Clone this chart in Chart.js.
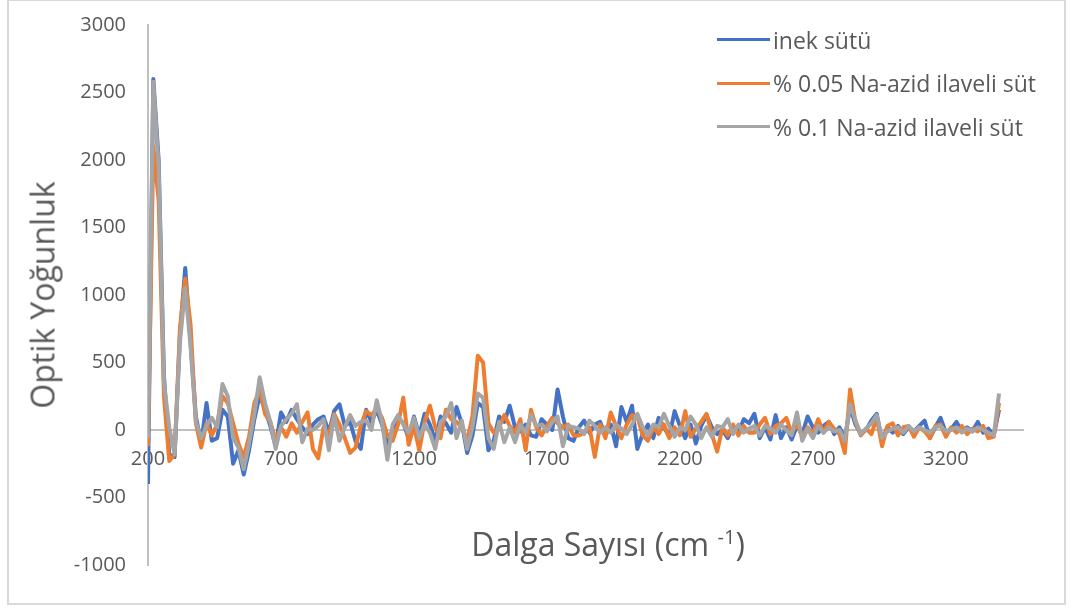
<!DOCTYPE html>
<html lang="tr">
<head>
<meta charset="utf-8">
<title>Optik Yoğunluk</title>
<script src="https://cdn.jsdelivr.net/npm/chart.js@4.4.1/dist/chart.umd.min.js"></script>
<style>
    body { margin: 0; background: #fff; font-family: 'Open Sans', sans-serif; color: #595959; }
    #wrap { position: relative; width: 1072px; height: 612px; background: #fff; }
    #frame { position: absolute; left: 7px; top: -1px; width: 1059px; height: 606px; border: 2px solid #d9d9d9; box-sizing: border-box; }
    #chart { position: absolute; left: 0; top: 0; }
    #ytitle { position: absolute; left: 42px; top: 295px; transform: translate(-50%, -50%) rotate(-90deg); font-size: 32px; white-space: nowrap; }
    #xtitle { position: absolute; left: 608px; top: 543px; transform: translate(-50%, -50%); font-size: 32px; white-space: nowrap; }
    #xtitle sup { font-size: 20px; }
    #legend { position: absolute; left: 717px; top: 18px; font-size: 23px; }
    .legend-item { display: flex; align-items: center; height: 43.5px; }
    .legend-line { width: 53px; height: 3px; margin-right: 3px; }
</style>
</head>
<body>
<div id="wrap">
    <div id="frame"></div>
    <canvas id="chart" width="1072" height="612"></canvas>
    <div id="ytitle">Optik Yoğunluk</div>
    <div id="xtitle">Dalga Sayısı (cm <sup>-1</sup>)</div>
    <div id="legend"></div>
</div>
<script>
// ============================================
// DATA
// ============================================

// wavenumbers (cm-1), one row = 200 cm-1
const dalgaSayisi = [
    200, 220, 240, 260, 280, 300, 320, 340, 360, 380,
    400, 420, 440, 460, 480, 500, 520, 540, 560, 580,
    600, 620, 640, 660, 680, 700, 720, 740, 760, 780,
    800, 820, 840, 860, 880, 900, 920, 940, 960, 980,
    1000, 1020, 1040, 1060, 1080, 1100, 1120, 1140, 1160, 1180,
    1200, 1220, 1240, 1260, 1280, 1300, 1320, 1340, 1360, 1380,
    1400, 1420, 1440, 1460, 1480, 1500, 1520, 1540, 1560, 1580,
    1600, 1620, 1640, 1660, 1680, 1700, 1720, 1740, 1760, 1780,
    1800, 1820, 1840, 1860, 1880, 1900, 1920, 1940, 1960, 1980,
    2000, 2020, 2040, 2060, 2080, 2100, 2120, 2140, 2160, 2180,
    2200, 2220, 2240, 2260, 2280, 2300, 2320, 2340, 2360, 2380,
    2400, 2420, 2440, 2460, 2480, 2500, 2520, 2540, 2560, 2580,
    2600, 2620, 2640, 2660, 2680, 2700, 2720, 2740, 2760, 2780,
    2800, 2820, 2840, 2860, 2880, 2900, 2920, 2940, 2960, 2980,
    3000, 3020, 3040, 3060, 3080, 3100, 3120, 3140, 3160, 3180,
    3200, 3220, 3240, 3260, 3280, 3300, 3320, 3340, 3360, 3380,
    3400
];

const inekSutu = [
    -400, 2600, 2000, 400, -180, -200, 700, 1200, 650, 100,
    -100, 200, -80, -60, 150, 100, -250, -150, -330, -150,
    80, 260, 150, 30, -120, 130, 60, 150, 80, 20,
    -30, 40, 80, 100, -20, 140, 190, 30, 60, -80,
    -140, 150, 60, 150, 40, -120, 10, 90, 50, -60,
    100, -40, 120, 40, -80, 100, 50, -20, 170, 50,
    -170, -40, 200, 170, -150, -80, 100, 60, 180, 20,
    -10, 40, -40, -50, 80, 40, 0, 300, 100, -60,
    -80, 20, 70, -20, 40, 60, -40, 40, -120, 170,
    60, 180, -140, -30, 40, -60, 90, 20, -50, 140,
    30, -60, 40, -100, 30, 110, 20, -30, 0, -60,
    30, -20, 80, 50, 120, -60, 20, -70, 110, -60,
    20, -70, 30, -30, 100, 20, -20, 30, 60, -30,
    20, -60, 170, 40, -30, 0, 70, 120, -80, 20,
    -20, 30, -30, 20, -10, 30, 70, -60, 20, 90,
    -20, 10, 60, -10, 20, -10, 60, -20, 10, -40,
    150
];

const naAzid005 = [
    -120, 2100, 1700, 250, -230, -180, 750, 1120, 780, 50,
    -130, 50, -40, 40, 250, 200, 50, -100, -200, -50,
    200, 300, 120, 60, -80, 20, -50, 50, -20, 60,
    130, -140, -210, 20, -40, 120, 40, -60, -170, -130,
    30, 140, 110, 160, 90, -40, -80, 40, 240, -110,
    30, -150, 60, 180, 20, -60, 150, 80, 60, 20,
    -80, 100, 550, 500, 50, -20, 20, 110, 30, -20,
    80, -150, 150, 20, -40, 30, 90, 50, 20, 40,
    -40, -40, -20, 20, -200, 40, -60, 130, 30, -60,
    40, 110, 100, -40, -80, 20, -30, 40, -60, 20,
    -40, 140, -50, 10, 60, 120, -30, -160, 20, -40,
    40, -40, 30, -20, -20, 40, 90, -30, 30, 50,
    90, -20, 40, -50, 20, -30, 80, -20, 60, 10,
    -30, -170, 300, 60, -40, 10, -30, 90, -120, 30,
    50, -40, 20, 30, -50, 20, -10, -60, 30, 40,
    -50, 20, -20, 30, -30, 10, -10, 30, -60, -50,
    200
];

const naAzid01 = [
    -60, 2580, 1950, 350, 20, -180, 650, 1050, 620, 60,
    -60, 30, 90, 20, 340, 250, -60, -130, -290, -100,
    120, 390, 200, 60, -140, 30, 80, 120, 190, -90,
    10, 0, 30, 80, -150, 110, -80, 20, 110, 30,
    60, 70, 0, 220, 60, -220, 40, 110, 40, -20,
    90, -60, 40, -20, -140, 60, 100, 200, -60, 70,
    -140, 20, 270, 240, -60, -140, 60, -90, 20, -90,
    40, -20, 110, 30, 40, -10, 60, 100, -120, 30,
    20, 10, -30, 70, 30, -20, 20, -20, 40, 10,
    -30, 40, 120, 20, -40, 40, 20, 120, 30, -50,
    20, 0, 100, 40, -60, 20, -50, 30, 20, 80,
    -30, 40, -20, 10, 30, -40, 30, 10, -20, 40,
    0, -40, 130, -80, 10, -60, 30, -20, 20, -10,
    0, -80, 190, 70, -30, 10, 50, 110, -60, -10,
    10, 20, -20, 30, -10, 20, 0, -20, 20, 30,
    -10, 0, 20, -20, 10, -10, 20, 0, -20, -40,
    270
];

const seriesNames = ['inek sütü', '% 0.05 Na-azid ilaveli süt', '% 0.1 Na-azid ilaveli süt'];
const seriesColors = ['#4472C4', '#ED7D31', '#A5A5A5'];
const xTickValues = [200, 700, 1200, 1700, 2200, 2700, 3200];

// ============================================
// CHART
// ============================================

Chart.defaults.font.family = "'Open Sans', sans-serif";
Chart.defaults.color = '#595959';

function toPoints(values) {
    return dalgaSayisi.map((x, i) => ({ x: x, y: values[i] }));
}

/**
 * Build the legend next to the plot
 */
function buildLegend() {
    const legend = document.getElementById('legend');
    let html = '';
    seriesNames.forEach((name, i) => {
        html += `
            <div class="legend-item">
                <span class="legend-line" style="background:${seriesColors[i]}"></span>
                <span>${name}</span>
            </div>
        `;
    });
    legend.innerHTML = html;
}

function drawChart() {
    const ctx = document.getElementById('chart');
    const allSeries = [inekSutu, naAzid005, naAzid01];

    new Chart(ctx, {
        type: 'line',
        data: {
            datasets: allSeries.map((values, i) => ({
                label: seriesNames[i],
                data: toPoints(values),
                borderColor: seriesColors[i],
                backgroundColor: seriesColors[i],
                borderWidth: 4,
                pointRadius: 0,
                tension: 0,
                borderJoinStyle: 'round',
                order: 2 - i   // gray on top like the original
            }))
        },
        options: {
            responsive: false,
            animation: false,
            layout: {
                padding: { left: 0, right: 49, top: 25, bottom: 47 }
            },
            plugins: {
                legend: { display: false },
                tooltip: { enabled: false }
            },
            scales: {
                x: {
                    type: 'linear',
                    position: { y: 0 },
                    min: 200,
                    max: 3490,
                    afterBuildTicks: axis => {
                        axis.ticks = xTickValues.map(v => ({ value: v }));
                    },
                    grid: { display: false, drawTicks: false },
                    border: { display: true, color: '#bfbfbf', width: 2 },
                    ticks: {
                        padding: 17,
                        maxRotation: 0,
                        font: { size: 20 },
                        callback: value => String(value)
                    }
                },
                y: {
                    min: -1000,
                    max: 3000,
                    afterFit: scale => { scale.width = 148; },
                    // ticks hidden with the grid, tickLength only spaces the labels
                    grid: { display: false, drawTicks: true, tickLength: 20 },
                    border: { display: true, color: '#bfbfbf', width: 2 },
                    ticks: {
                        stepSize: 500,
                        padding: 2,
                        font: { size: 20 },
                        callback: value => String(value)
                    }
                }
            }
        }
    });
}

buildLegend();
drawChart();
</script>
</body>
</html>
